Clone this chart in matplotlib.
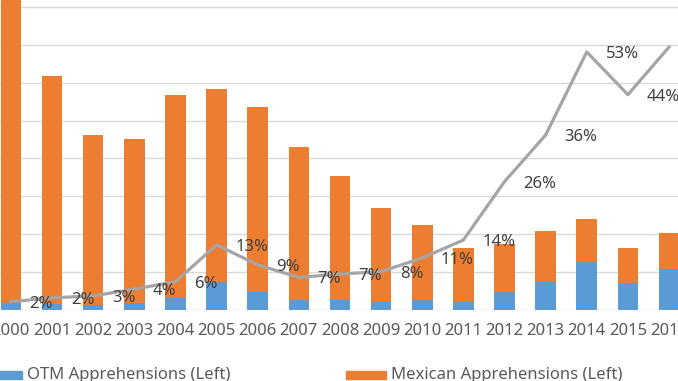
import matplotlib
matplotlib.use('Agg')
import matplotlib.pyplot as plt
from matplotlib.patches import Rectangle
import numpy as np

plt.rcParams['font.family'] = ['Noto Sans', 'DejaVu Sans']

# ===== data =====
years = [str(y) for y in range(2000, 2017)]
otm = [33000, 27500, 26000, 36000, 59000, 147000, 91000, 50000, 50000,
       41000, 50000, 41000, 91000, 147000, 253000, 139000, 213000]
mexican = [1647000, 1207000, 899000, 864000, 1077000, 1020000, 979000, 810000, 656000,
           496000, 397000, 286000, 257000, 268000, 226000, 186000, 193000]
otm_share = [1.6, 2.4, 2.8, 4.2, 5.7, 13.3, 9.2, 6.6, 7.3,
             7.8, 10.6, 14.3, 26.3, 35.9, 53.0, 44.2, 54.0]

BLUE = '#5B9BD5'
ORANGE = '#ED7D31'
GRAY = '#A5A5A5'
TXT = '#595959'

W, H = 678, 381
fig = plt.figure(figsize=(W / 100, H / 100), dpi=100)

# plot area is larger than the picture (it was cropped)
left, right = -9.7, 689.6
bottom, top = H - 309.5, H + 30.7
ax = fig.add_axes([left / W, bottom / H, (right - left) / W, (top - bottom) / H])

x = np.arange(len(years))
ax.bar(x, otm, width=0.5, color=BLUE, zorder=2)
ax.bar(x, mexican, width=0.5, bottom=otm, color=ORANGE, zorder=2)

ax.set_xlim(-0.5, len(years) - 0.5)
ax.set_ylim(0, 1800000)
ax.set_yticks(np.arange(0, 1800001, 200000))
ax.yaxis.grid(True, color='#D9D9D9', linewidth=1.0)
ax.set_axisbelow(True)
ax.set_xticks(x)
ax.set_xticklabels(years, fontsize=12, color=TXT, fontweight='medium')
ax.tick_params(axis='x', length=0, pad=10)
ax.tick_params(axis='y', length=0, labelleft=False)
for s in ax.spines.values():
    s.set_visible(False)

# -------- share line (right axis) --------
ax2 = ax.twinx()
ax2.plot(x, otm_share, color=GRAY, linewidth=2.3, solid_joinstyle='round', zorder=3)
ax2.set_ylim(0, 70)
ax2.set_yticks([])
for s in ax2.spines.values():
    s.set_visible(False)
for xi, v in zip(x, otm_share):
    ax2.annotate(f'{v:.0f}%', (xi, v), xytext=(13.5, 0), textcoords='offset points',
                 ha='left', va='center_baseline', fontsize=12, color='#404040',
                 fontweight='semibold', zorder=4)

# -------- legend (bottom, partly cropped) --------
legend_items = [('OTM Apprehensions (Left)', BLUE, -18),
                ('Mexican Apprehensions (Left)', ORANGE, 346)]
for label, col, px in legend_items:
    fig.patches.append(Rectangle((px / W, (H - 379) / H), 40 / W, 8 / H,
                                 transform=fig.transFigure, color=col))
    fig.text((px + 45) / W, (H - 373) / H, label, fontsize=12, color=TXT,
             fontweight='medium', ha='left', va='center_baseline')

fig.savefig('out.png', dpi=100)
